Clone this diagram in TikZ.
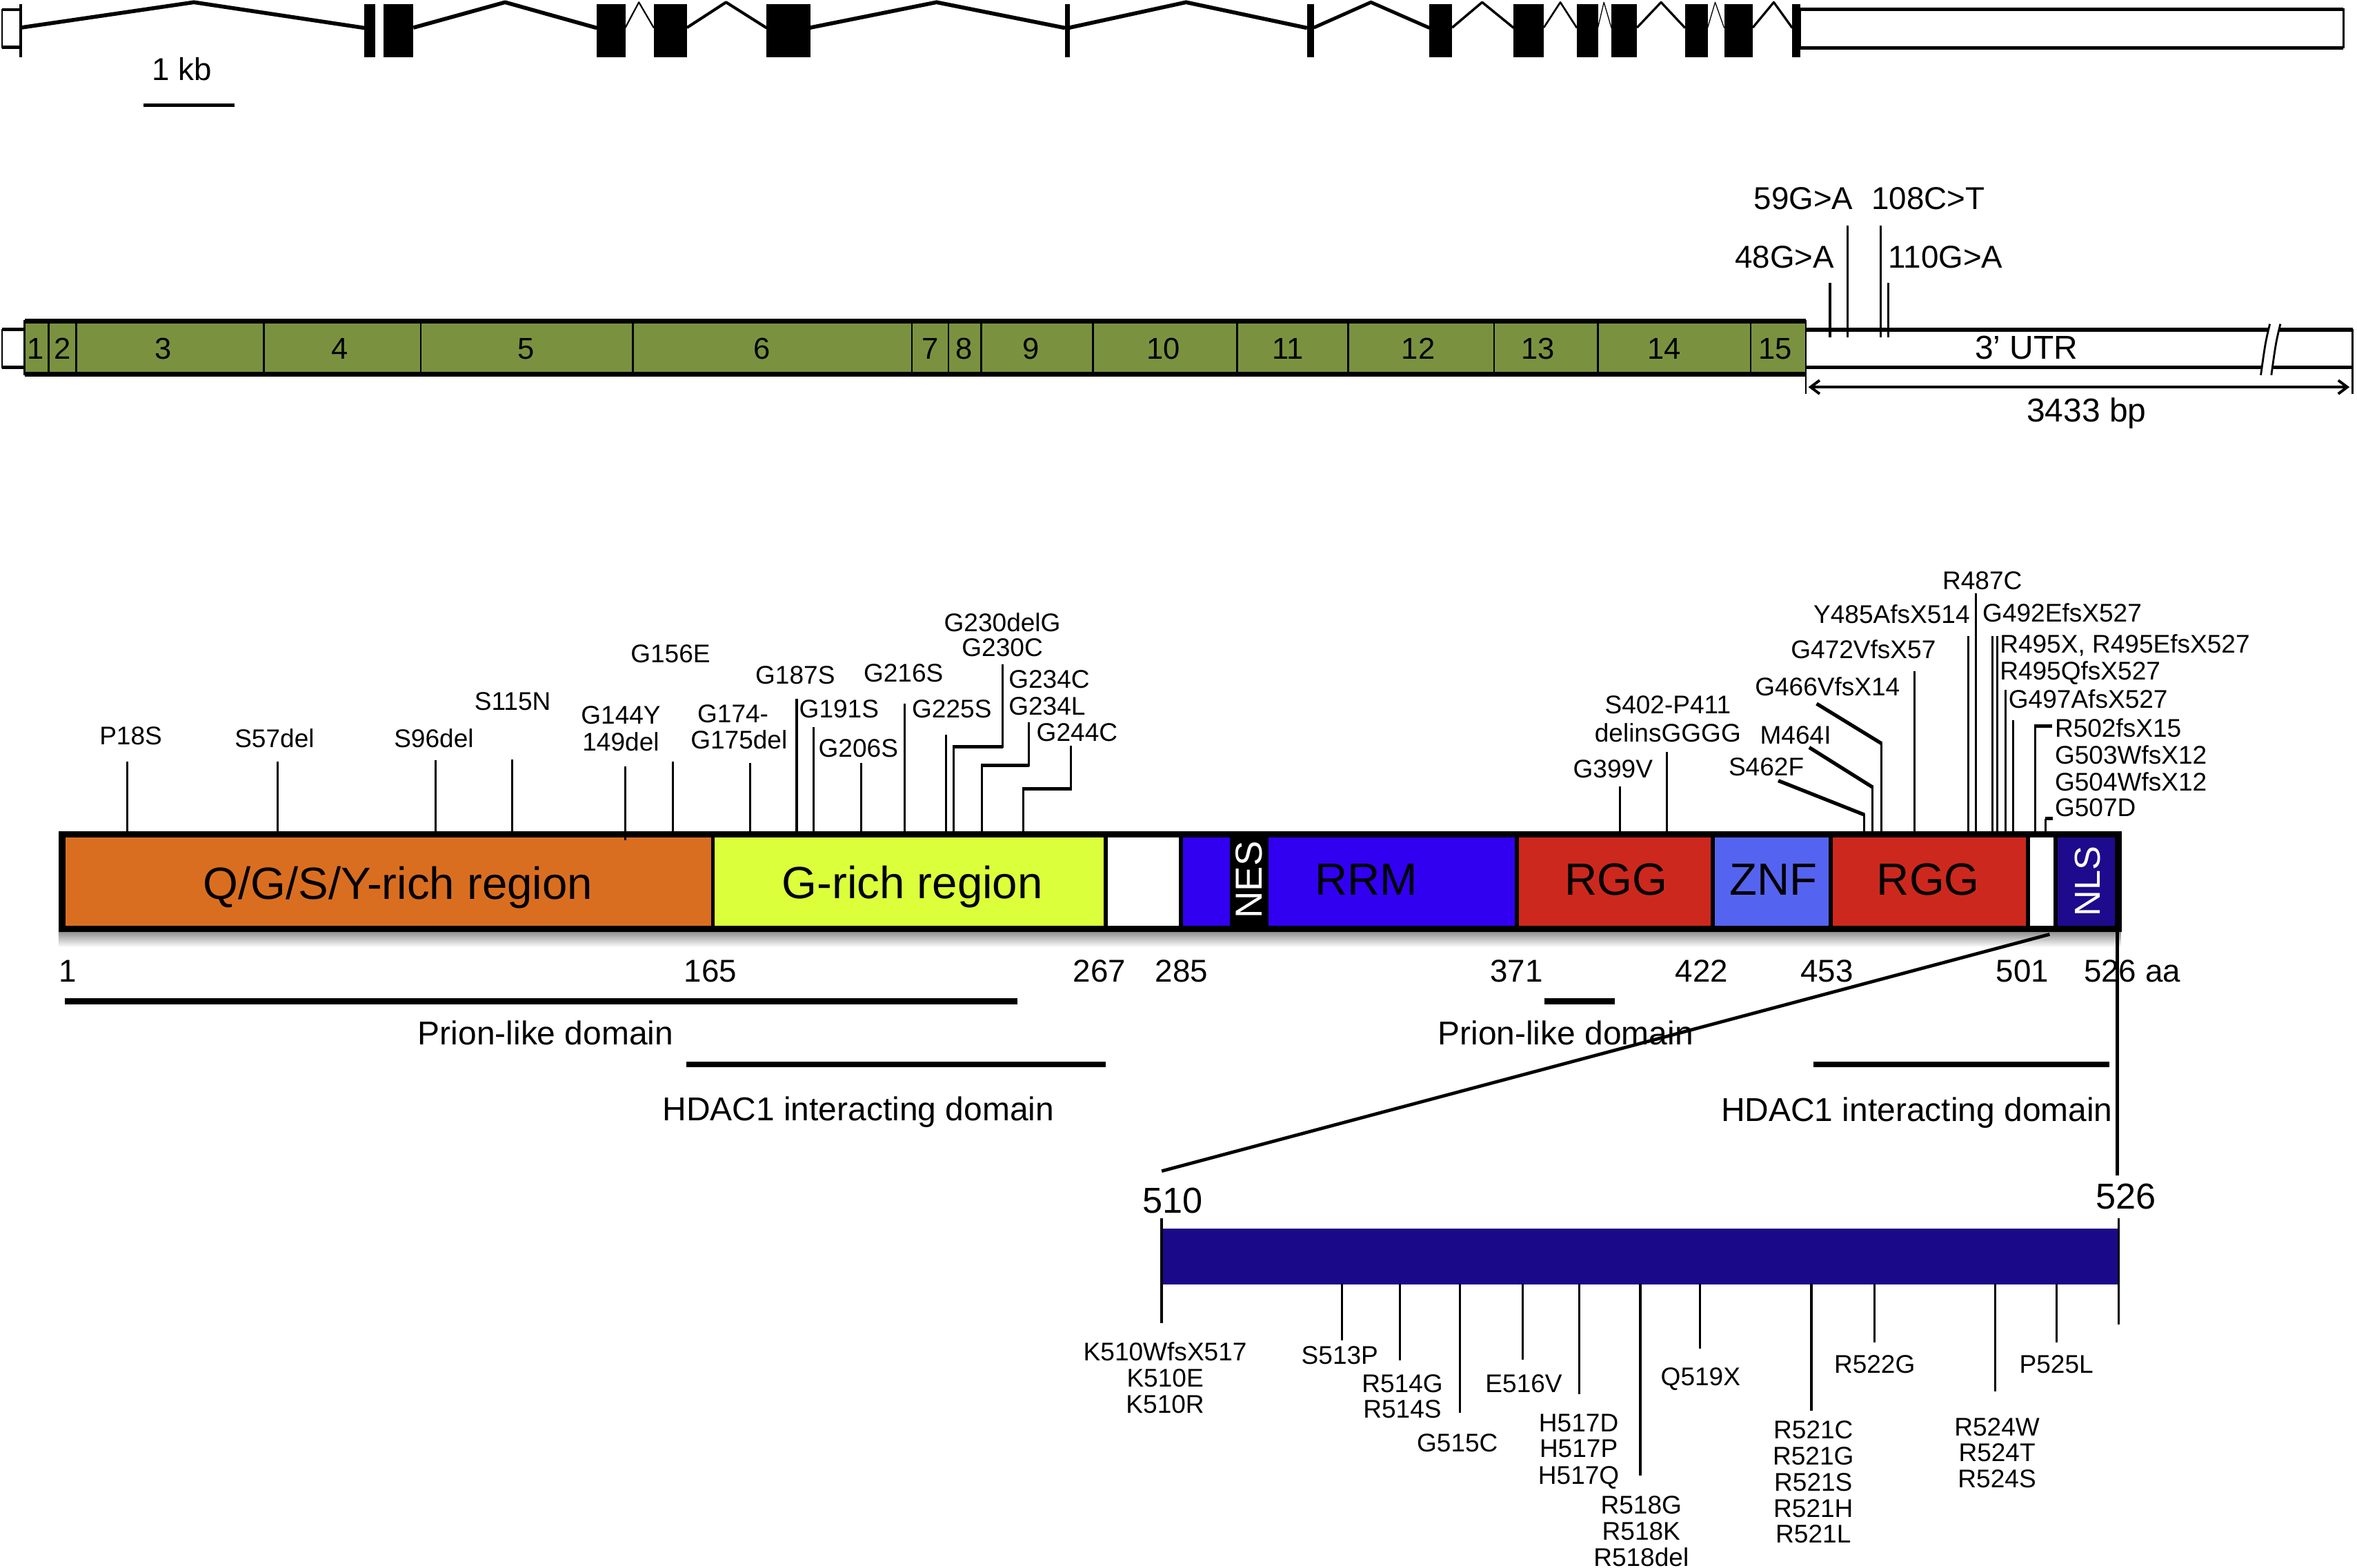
\documentclass[tikz,border=0pt]{standalone}
\usepackage{fontspec}
\setmainfont{Liberation Sans}
\usetikzlibrary{arrows.meta}
\definecolor{mgreen}{RGB}{122,146,64}
\definecolor{qorange}{RGB}{218,110,32}
\definecolor{gyellow}{RGB}{220,255,60}
\definecolor{rblue}{RGB}{50,0,240}
\definecolor{rred}{RGB}{205,40,30}
\definecolor{zblue}{RGB}{85,100,240}
\definecolor{nnavy}{RGB}{30,10,140}
\definecolor{lnavy}{RGB}{26,10,138}
\begin{document}
\begin{tikzpicture}[x=1pt,y=-1pt,
  mlab/.style={font=\fontsize{17}{20}\selectfont, inner sep=0pt, text height=12.2pt, text depth=0pt},
  ulab/.style={font=\fontsize{21}{24}\selectfont, inner sep=0pt, text height=15pt, text depth=0pt},
  elab/.style={font=\fontsize{20}{24}\selectfont, inner sep=0pt, text height=14.3pt, text depth=0pt},
  dlab/.style={font=\fontsize{22}{26}\selectfont, inner sep=0pt, text height=15.8pt, text depth=0pt},
  blab/.style={font=\fontsize{30}{34}\selectfont, inner sep=0pt, text height=21.5pt, text depth=0pt},
  rlab/.style={font=\fontsize{25}{30}\selectfont, inner sep=0pt, text height=18pt, text depth=0pt, text=white, rotate=90},
  xlab/.style={font=\fontsize{24}{28}\selectfont, inner sep=0pt, text height=17.2pt, text depth=0pt},
  mline/.style={line width=1.4pt},
  lead/.style={line width=2.4pt},
  dombar/.style={line width=4pt},
]
\useasboundingbox (0,0) rectangle (1568,1043);

%% ===== gene structure =====
\draw[line width=1.1pt, fill=white] (1.5,6.5) rectangle (13.8,31.5);
\draw[line width=2pt] (1.5,6.5) -- (13.8,6.5) (1.5,31.5) -- (13.8,31.5);
\draw[line width=1.8pt] (13.8,2.7) -- (13.8,38.2);
\foreach \a/\b in {242.5/249.5, 255/275, 397/416, 435/457, 510/539, 708.5/711.5, 869.5/874, 951/966, 1007/1027, 1049/1063, 1072/1089, 1121/1136, 1147/1166, 1192.3/1197.8}
  \fill (\a,2.8) rectangle (\b,38.2);
\foreach \a/\p/\b/\w in {13.8/129/242.5/2.6, 275/336/397/2.6, 416/425/435/1, 457/483/510/1.9, 539/623/708.5/2.6, 711.5/789/869.5/2.6, 874/912/951/2.3, 966/986/1007/1.6, 1027/1038/1049/1.2, 1063/1067/1072/0.6, 1089/1105/1121/1.5, 1136/1141/1147/0.6, 1166/1180/1192.3/1.5}
  \draw[line width=\w pt, line join=round] (\a,18.4) -- (\p,1.5) -- (\b,18.6);
\draw[line width=1.1pt] (1197.8,6.2) rectangle (1559,31.8);
\draw[line width=2.3pt] (1197.8,6.2) -- (1559,6.2) (1197.8,31.8) -- (1559,31.8);
\draw[line width=2.5pt] (95.5,70) -- (156,70);
\node[ulab] (kb) at (121,46) {1 kb};

%% ===== mRNA =====
\draw[line width=1.1pt, fill=white] (1.5,219.3) rectangle (16.4,244.4);
\draw[line width=2.3pt] (1.5,219.3) -- (16.4,219.3) (1.5,244.4) -- (16.4,244.4);
\fill[mgreen] (16.4,213.6) rectangle (1201.3,249);
\foreach \x in {32.3,50.7,175.6,280,421,606.5,631,652.8,727,823,896.8,993.8,1063,1164.6}
  \draw[line width=1.1pt] (\x,213.6) -- (\x,249);
\draw[line width=1.2pt] (16.4,213.6) rectangle (1201.3,249);
\draw[line width=3.3pt] (16.4,213.6) -- (1201.3,213.6) (16.4,249) -- (1201.3,249);
\foreach \n/\x in {1/23.5, 2/41.5, 3/108.5, 4/226, 5/350, 6/507, 7/619, 8/641.5, 9/686, 10/774, 11/857, 12/943.5, 13/1023, 14/1107, 15/1181}
  \node[elab] (ex\n) at (\x,231.5) {\n};
% 3' UTR box
\draw[line width=1.1pt] (1201.3,219.3) rectangle (1565,244.4);
\draw[line width=2.6pt] (1201.3,219.3) -- (1565,219.3) (1201.3,244.4) -- (1565,244.4);
\fill[white] (1509.5,216) -- (1517,216) -- (1511,248) -- (1503.5,248) -- cycle;
\draw[line width=1.3pt] (1510,215.5) .. controls (1507,228) .. (1504,249.5);
\draw[line width=1.3pt] (1517,215.5) .. controls (1514,228) .. (1511,249.5);
\node[dlab] (utr) at (1348,231) {3’ UTR};
\draw[line width=1.1pt] (1201.3,249) -- (1201.3,262) (1565,244.4) -- (1565,262);
\draw[line width=1.8pt, {Straight Barb[length=6pt,width=9pt]}-{Straight Barb[length=6pt,width=9pt]}] (1203,257.5) -- (1563,257.5);
\node[dlab] (bp) at (1388,272.5) {3433 bp};
% UTR variants
\draw[mline] (1217.4,224.6) -- (1217.4,188);
\draw[mline] (1229,224.6) -- (1229,150);
\draw[mline] (1251,224.6) -- (1251,150);
\draw[mline] (1256,224.6) -- (1256,188);
\node[ulab] (v59) at (1199.8,131.6) {59G>A};
\node[ulab] (v108) at (1282.7,131.6) {108C>T};
\node[ulab] (v48) at (1187.2,170.6) {48G>A};
\node[ulab] (v110) at (1294.3,170.6) {110G>A};

%% ===== protein =====
\shade[top color=black!45, bottom color=white] (39,619.5) rectangle (1411,630);
\foreach \a/\b/\c in {41.3/474.2/qorange, 474.2/735.7/gyellow, 735.7/785.5/white, 785.5/818/rblue, 818/844/black, 844/1009/rblue, 1009/1139.5/rred, 1139.5/1218/zblue, 1218/1349/rred, 1349/1367.3/white, 1367.3/1409.2/nnavy}
  \fill[\c] (\a,555.2) rectangle (\b,617.7);
\foreach \x in {474.2,735.7,785.5,1009,1139.5,1218,1349,1367.3}
  \draw[line width=2.6pt] (\x,555.2) -- (\x,617.7);
\draw[line width=4.2pt] (41.3,555.2) rectangle (1409.2,617.7);
\node[blab] (qgsy) at (264.7,587.2) {Q/G/S/Y-rich region};
\node[blab] (grich) at (607,587) {G-rich region};
\node[rlab] (nes) at (830.5,585.3) {NES};
\node[blab] (rrm) at (908.8,584.8) {RRM};
\node[blab] (rgg1) at (1075.2,584.8) {RGG};
\node[blab] (znf) at (1179.7,584.8) {ZNF};
\node[blab] (rgg2) at (1282.7,584.8) {RGG};
\node[rlab, font=\fontsize{24}{28}\selectfont] (nls) at (1388.2,586.1) {NLS};

% left mutations
\foreach \x/\t in {84.6/506.6, 184.6/506.6, 289.6/505.8, 340.9/505, 447.8/506.6, 499/507.4, 530/464.8, 541.4/483.7, 572.7/507.4, 602/468, 629.5/488.6}
  \draw[mline] (\x,554) -- (\x,\t);
\draw[mline] (416,559) -- (416,510);
\draw[mline] (634.4,554) -- (634.4,496.8) -- (666.8,496.8) -- (666.8,441.9);
\draw[lead] (633.8,496.8) -- (667.4,496.8);
\draw[mline] (653.3,554) -- (653.3,509) -- (684.2,509) -- (684.2,480.4);
\draw[lead] (652.7,509) -- (684.8,509);
\draw[mline] (680.7,554) -- (680.7,524.6) -- (712.6,524.6) -- (712.6,496);
\draw[lead] (680.1,524.6) -- (713.2,524.6);
\node[mlab] (p18s) at (87,489.4) {P18S};
\node[mlab] (s57) at (182.6,491) {S57del};
\node[mlab] (s96) at (288.6,491) {S96del};
\node[mlab] (s115) at (341,466.5) {S115N};
\node[mlab] (g144a) at (413,475.5) {G144Y};
\node[mlab] (g144b) at (413,493.5) {149del};
\node[mlab] (g156) at (446,434.5) {G156E};
\node[mlab] (g174a) at (487.6,474.6) {G174-};
\node[mlab] (g174b) at (491.6,491.9) {G175del};
\node[mlab] (g187) at (529,449) {G187S};
\node[mlab, anchor=west] (g191) at (531.5,471.4) {G191S};
\node[mlab] (g206) at (571,497.6) {G206S};
\node[mlab] (g216) at (601,447.6) {G216S};
\node[mlab, anchor=west] (g225) at (606.5,471.4) {G225S};
\node[mlab] (g230a) at (666.8,414) {G230delG};
\node[mlab] (g230b) at (666.8,430.4) {G230C};
\node[mlab, anchor=west] (g234a) at (670.8,451.7) {G234C};
\node[mlab, anchor=west] (g234b) at (670.8,469.7) {G234L};
\node[mlab] (g244) at (716.5,487) {G244C};

% right mutations
\foreach \x/\t in {1077.7/523, 1108.8/500, 1273.6/446.4, 1309.3/423, 1314.6/394.5, 1325.5/423, 1328.5/423, 1334/458.9, 1339.4/479}
  \draw[mline] (\x,554) -- (\x,\t);
\draw[mline] (1240.3,554) -- (1240.3,541.5);
\draw[lead] (1240.3,542) -- (1183,519.3);
\draw[mline] (1245.8,554) -- (1245.8,523.2);
\draw[lead] (1245.8,523.7) -- (1203.6,497.2);
\draw[mline] (1251.7,554) -- (1251.7,494.1);
\draw[lead] (1251.7,494.6) -- (1208.5,468.1);
\draw[mline] (1354,554) -- (1354,483);
\draw[lead] (1353.4,483) -- (1365,483);
\draw[mline] (1361,554) -- (1361,544.5);
\draw[lead] (1360.4,544.5) -- (1365.5,544.5);
\node[mlab] (g399) at (1073,511.5) {G399V};
\node[mlab] (s402a) at (1109.5,468.8) {S402-P411};
\node[mlab] (s402b) at (1109.5,487.2) {delinsGGGG};
\node[mlab] (s462) at (1175,510) {S462F};
\node[mlab] (m464) at (1194.5,488.7) {M464I};
\node[mlab] (g466) at (1215.7,456.6) {G466VfsX14};
\node[mlab] (g472) at (1239.6,432.1) {G472VfsX57};
\node[mlab, anchor=east] (y485) at (1310.6,408.4) {Y485AfsX514};
\node[mlab] (r487) at (1318.7,386.2) {R487C};
\node[mlab, anchor=west] (g492) at (1318.7,407.6) {G492EfsX527};
\node[mlab, anchor=west] (r495a) at (1330.2,428.3) {R495X, R495EfsX527};
\node[mlab, anchor=west] (r495b) at (1330.2,445.9) {R495QfsX527};
\node[mlab, anchor=west] (g497) at (1336,465) {G497AfsX527};
\node[mlab, anchor=west] (r502) at (1366.8,484) {R502fsX15};
\node[mlab, anchor=west] (g503) at (1366.8,502.3) {G503WfsX12};
\node[mlab, anchor=west] (g504) at (1366.8,520) {G504WfsX12};
\node[mlab, anchor=west] (g507) at (1366.8,537) {G507D};

% numbers
\foreach \n/\x in {1/45, 165/472.7, 267/731.5, 285/786, 371/1008.8, 422/1132, 453/1215.4, 501/1345.5}
  \node[ulab] (aa\n) at (\x,645.6) {\n};
\node[ulab] (aaend) at (1418.4,645.6) {526 aa};

% domains
\draw[dombar] (43.3,666) -- (676.7,666);
\draw[dombar] (1027.4,666) -- (1074.2,666);
\draw[dombar] (456.8,708) -- (735.5,708);
\draw[dombar] (1206.3,708) -- (1403.3,708);
\node[dlab] (pl1) at (363,687) {Prion-like domain};
\node[dlab] (pl2) at (1041.5,687) {Prion-like domain};
\node[dlab] (hd1) at (571,737.5) {HDAC1 interacting domain};
\node[dlab] (hd2) at (1275.2,738) {HDAC1 interacting domain};

%% ===== zoom of C-terminus =====
\draw[line width=2.2pt] (1363.5,621.5) -- (772.8,779);
\draw[line width=2pt] (1408.5,619) -- (1408.5,782);
\node[xlab] (z510) at (780,798.5) {510};
\node[xlab] (z526) at (1414.4,795.5) {526};
\fill[lnavy] (772.8,817.3) rectangle (1409,854.3);
\draw[line width=1.6pt] (772.8,810.5) -- (772.8,880);
\draw[line width=1.6pt] (1409.5,810.5) -- (1409.5,881);
\foreach \x/\b in {892.8/891.6, 931.4/904.9, 971.2/940, 1012.8/904.6, 1050.8/927.3, 1091.2/981.6, 1130.7/897.3, 1205/938.3, 1247.1/893.2, 1327.1/925.6, 1368/893.2}
  \draw[mline] (\x,854) -- (\x,\b);
\node[mlab] (k510a) at (775.1,899) {K510WfsX517};
\node[mlab] (k510b) at (775.1,916.5) {K510E};
\node[mlab] (k510c) at (775.1,934) {K510R};
\node[mlab] (s513) at (891.3,901.3) {S513P};
\node[mlab] (r514a) at (932.9,920) {R514G};
\node[mlab] (r514b) at (932.9,937) {R514S};
\node[mlab] (g515) at (969.5,959.7) {G515C};
\node[mlab] (e516) at (1013.7,920) {E516V};
\node[mlab] (h517a) at (1050.2,946.5) {H517D};
\node[mlab] (h517b) at (1050.2,963.5) {H517P};
\node[mlab] (h517c) at (1050.2,981) {H517Q};
\node[mlab] (r518a) at (1091.8,1001) {R518G};
\node[mlab] (r518b) at (1091.8,1018.5) {R518K};
\node[mlab] (r518c) at (1091.8,1036) {R518del};
\node[mlab] (q519) at (1131.3,915.5) {Q519X};
\node[mlab] (r521a) at (1206.3,950.8) {R521C};
\node[mlab] (r521b) at (1206.3,968.2) {R521G};
\node[mlab] (r521c) at (1206.3,985.6) {R521S};
\node[mlab] (r521d) at (1206.3,1003) {R521H};
\node[mlab] (r521e) at (1206.3,1020.4) {R521L};
\node[mlab] (r522) at (1247.1,907.5) {R522G};
\node[mlab] (r524a) at (1328.5,949) {R524W};
\node[mlab] (r524b) at (1328.5,966.2) {R524T};
\node[mlab] (r524c) at (1328.5,983.4) {R524S};
\node[mlab] (p525) at (1368,907.5) {P525L};
\end{tikzpicture}
\end{document}
